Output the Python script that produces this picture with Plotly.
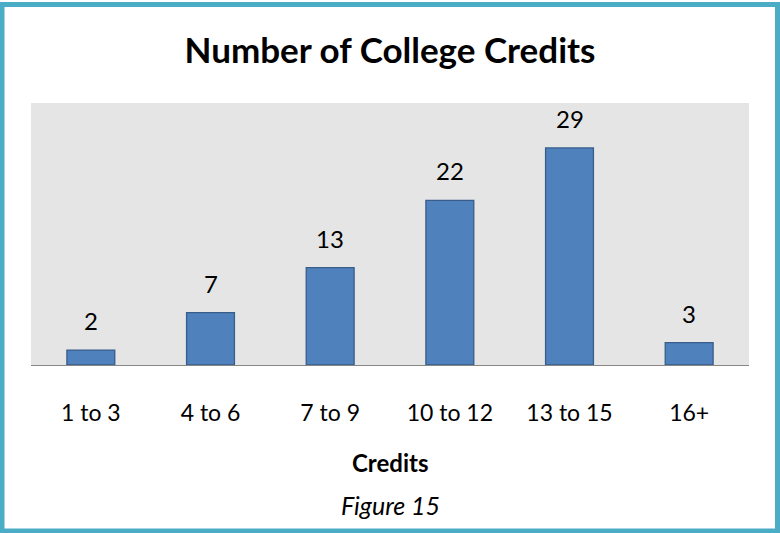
import plotly.graph_objects as go

categories = ['1 to 3', '4 to 6', '7 to 9', '10 to 12', '13 to 15', '16+']
students = [2, 7, 13, 22, 29, 3]

W, H = 780, 533
L, R, T, B = 31, 31, 103, 168
pw, ph = W - L - R, H - T - B

fig = go.Figure()
fig.add_trace(go.Bar(
    x=categories, y=students,
    marker=dict(color='#4f81bd', line=dict(color='#385d8a', width=1.3)),
    width=0.4,
))

# data labels above bars
for c, v in zip(categories, students):
    fig.add_annotation(x=c, y=v, text=str(v), showarrow=False,
                       yanchor='bottom', yshift=13,
                       font=dict(family='Lato', size=24, color='#000000'))

def px_x(px):
    return (px - L) / pw

def px_y(py):
    return (H - B - py) / ph

fig.add_annotation(x=0.5, y=px_y(462), xref='paper', yref='paper',
                   yanchor='middle',
                   text='<b>Credits</b>', showarrow=False,
                   font=dict(family='Lato', size=24, color='#000000'))
fig.add_annotation(x=0.5, y=px_y(505), xref='paper', yref='paper',
                   yanchor='middle',
                   text='<i>Figure 15</i>', showarrow=False,
                   font=dict(family='Lato', size=25, color='#000000'))

# outer border
fig.add_shape(type='rect', xref='paper', yref='paper',
              x0=px_x(2), x1=px_x(777.5), y0=px_y(531), y1=px_y(4.5),
              line=dict(color='#4bacc6', width=5), layer='above')

fig.update_layout(
    width=W, height=H,
    margin=dict(l=L, r=R, t=T, b=B),
    paper_bgcolor='white',
    plot_bgcolor='#e5e5e5',
    showlegend=False,
    title=dict(text='<b>Number of College Credits</b>', x=0.5, xanchor='center',
               y=1 - 51 / H, yanchor='middle', yref='container',
               font=dict(family='Lato', size=35, color='#000000')),
    xaxis=dict(showline=True, linecolor='#868686', linewidth=1.3,
               ticks='', ticklabelstandoff=27,
               tickfont=dict(family='Lato', size=23, color='#000000'),
               showgrid=False, zeroline=False),
    yaxis=dict(range=[0, 35], visible=False, showgrid=False, zeroline=False),
)

fig.write_html('out.html', config={'displayModeBar': False},
               post_script="document.body.style.margin='0';")
